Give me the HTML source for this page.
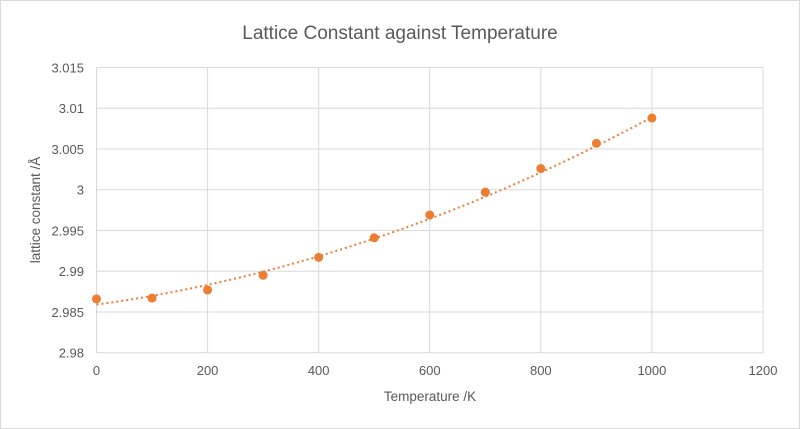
<!DOCTYPE html><html><head><style>body{margin:0;background:#fff}svg{display:block;font-family:"Liberation Sans",sans-serif}</style></head><body>
<svg id="s" width="800" height="429" xmlns="http://www.w3.org/2000/svg">
<rect x="0.5" y="0.5" width="799" height="428" fill="#fff" stroke="#d9d9d9"/>
<text x="400" y="39" text-anchor="middle" font-size="19" fill="#595959">Lattice Constant against Temperature</text>
<text x="430" y="401" text-anchor="middle" font-size="13.5" fill="#595959">Temperature /K</text>
<text transform="translate(40,210) rotate(-90)" text-anchor="middle" font-size="13.5" fill="#595959">lattice constant /Å</text>
<g id="g"></g>
</svg>
<script>
var g=document.getElementById('g'),h='';
var X=function(t){return 96.5+t/1200*666.5},Y=function(v){return 352.7-(v-2.98)/0.035*285.2};
for(var i=0;i<=7;i++){var v=2.98+i*0.005,y=Y(v);h+='<line x1="96.5" x2="763" y1="'+y+'" y2="'+y+'" stroke="#d9d9d9"/>';
var l=[ '2.98','2.985','2.99','2.995','3','3.005','3.01','3.015'][i];h+='<text x="84" y="'+(y+5)+'" text-anchor="end" font-size="13" fill="#595959">'+l+'</text>';}
for(var t=0;t<=1200;t+=200){var x=X(t);h+='<line x1="'+x+'" x2="'+x+'" y1="67.5" y2="352.7" stroke="#d9d9d9"/>';h+='<text x="'+x+'" y="375" text-anchor="middle" font-size="13" fill="#595959">'+t+'</text>';}
var p='';for(var t=0;t<=1000;t+=10){var v=2.9859+9.4e-6*t+1.36e-8*t*t;p+=(t?'L':'M')+X(t).toFixed(1)+','+Y(v).toFixed(1);}
h+='<path d="'+p+'" fill="none" stroke="#ed7d31" stroke-width="2" stroke-dasharray="2 3"/>';
var d=[2.9866,2.9867,2.9877,2.9895,2.9917,2.9941,2.9969,2.9997,3.0026,3.0057,3.0088];
d.forEach(function(v,i){h+='<circle cx="'+X(i*100)+'" cy="'+Y(v)+'" r="4.5" fill="#ed7d31"/>';});
g.innerHTML=h;
</script></body></html>
